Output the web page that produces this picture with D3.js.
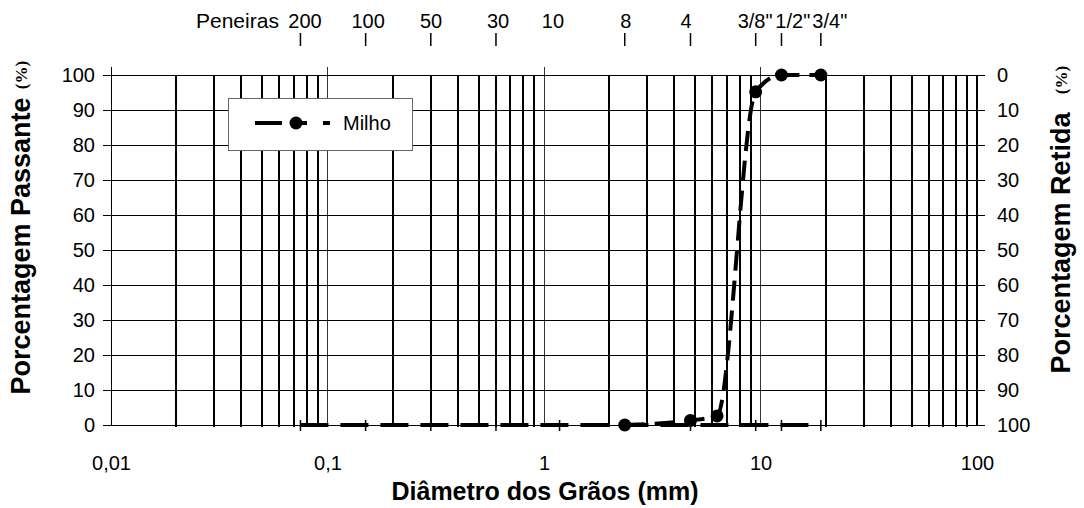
<!DOCTYPE html>
<html><head><meta charset="utf-8">
<script src="https://cdn.jsdelivr.net/npm/d3@7"></script>
<style>
html,body{margin:0;padding:0;background:#fff;}
svg{display:block;font-family:"Liberation Sans",Arial,sans-serif;}
</style></head>
<body><svg id="c" width="1084" height="508"></svg>
<script>
// ---- data ----
const milhoSize = [2.36, 4.75, 6.3, 9.5, 12.5, 19];          // mm
const milhoPass = [0, 1.3, 2.6, 95.2, 100, 100];              // % passante
const baseSize  = [0.075, 0.15, 0.3, 0.6, 1.18, 2.36, 4.75, 9.5, 12.5, 19];
const basePass  = [0, 0, 0, 0, 0, 0, 0, 0, 0, 0];
const sieveLabels = ["200", "100", "50", "30", "10", "8", "4", "3/8\"", "1/2\"", "3/4\""];
const sieveTickMM = [0.075, 0.15, 0.3, 0.6, null, 2.36, 4.75, 9.5, 12.5, 19];
const sieveLabelMM = [0.0787, 0.154, 0.301, 0.614, 1.10, 2.39, 4.53, 9.44, 14.1, 20.9];
const xTicks = [0.01, 0.1, 1, 10, 100];
const yTicks = [0, 10, 20, 30, 40, 50, 60, 70, 80, 90, 100];

const svg = d3.select("#c");
const x = d3.scaleLog().domain([0.01, 100]).range([111, 977]);
const y = d3.scaleLinear().domain([0, 100]).range([425, 75]);
const yR = d3.scaleLinear().domain([100, 0]).range([425, 75]);
const FS = 20;
const px = v => Math.round(v) + 0.5;

// vertical minor grid
const minors = [];
[0.01, 0.1, 1, 10].forEach(d => { for (let k = 2; k <= 9; k++) minors.push(k * d); });
svg.append("g").attr("shape-rendering", "crispEdges").selectAll("line").data(minors).join("line")
  .attr("x1", d => Math.round(x(d))).attr("x2", d => Math.round(x(d))).attr("y1", y(100)).attr("y2", y(0) + 2)
  .attr("stroke", "#000").attr("stroke-width", 2);
// decade lines
svg.append("g").attr("shape-rendering", "crispEdges").selectAll("line").data([0.1, 1, 10]).join("line")
  .attr("x1", d => px(x(d))).attr("x2", d => px(x(d))).attr("y1", y(100) - 8).attr("y2", y(0))
  .attr("stroke", "#333").attr("stroke-width", 1);
svg.append("line").attr("shape-rendering", "crispEdges")
  .attr("x1", Math.round(x(100))).attr("x2", Math.round(x(100))).attr("y1", y(100)).attr("y2", y(0))
  .attr("stroke", "#000").attr("stroke-width", 2);
// horizontal grid
svg.append("g").attr("shape-rendering", "crispEdges").selectAll("line").data(yTicks).join("line")
  .attr("x1", x(0.01) - 8).attr("x2", x(100) + 8).attr("y1", d => px(y(d))).attr("y2", d => px(y(d)))
  .attr("stroke", "#000").attr("stroke-width", 1);
// left axis line
svg.append("line").attr("shape-rendering", "crispEdges")
  .attr("x1", px(x(0.01))).attr("x2", px(x(0.01))).attr("y1", y(100) - 8).attr("y2", y(0))
  .attr("stroke", "#000").attr("stroke-width", 1);

// axes (labels)
const gl = svg.append("g").attr("transform", `translate(${x(0.01)},0)`)
  .call(d3.axisLeft(y).tickValues(yTicks).tickSize(0).tickPadding(16).tickFormat(d3.format("d")));
const gr = svg.append("g").attr("transform", `translate(${x(100)},0)`)
  .call(d3.axisRight(yR).tickValues(yTicks).tickSize(0).tickPadding(20).tickFormat(d3.format("d")));
const gb = svg.append("g").attr("transform", `translate(0,${y(0)})`)
  .call(d3.axisBottom(x).tickValues(xTicks).tickSize(0).tickPadding(31)
    .tickFormat(d => String(d).replace(".", ",")));
[gl, gr, gb].forEach(g => {
  g.select(".domain").remove();
  g.selectAll("text").attr("font-size", FS).attr("fill", "#000")
    .attr("font-family", "'Liberation Sans',Arial,sans-serif");
});

// base series (zero line with vertical tick markers)
const line0 = d3.line().x((d, i) => x(baseSize[i])).y(d => y(d));
svg.append("path").datum(basePass).attr("d", line0).attr("fill", "none")
  .attr("stroke", "#000").attr("stroke-width", 4).attr("stroke-dasharray", "28,12");
svg.append("g").selectAll("line").data(basePass).join("line")
  .attr("x1", (d, i) => x(baseSize[i])).attr("x2", (d, i) => x(baseSize[i]))
  .attr("y1", d => y(d) - 5).attr("y2", d => y(d) + 6)
  .attr("stroke", "#000").attr("stroke-width", 1.5);

// Milho series
const lineM = d3.line().x((d, i) => x(milhoSize[i])).y(d => y(d)).curve(d3.curveMonotoneX);
svg.append("path").datum(milhoPass).attr("d", lineM).attr("fill", "none")
  .attr("stroke", "#000").attr("stroke-width", 4).attr("stroke-dasharray", "20,10");
svg.append("g").selectAll("circle").data(milhoPass).join("circle")
  .attr("cx", (d, i) => x(milhoSize[i])).attr("cy", d => y(d)).attr("r", 6.5).attr("fill", "#000");

// sieves on top
svg.append("text").attr("x", 196).attr("y", 28).attr("font-size", 21).text("Peneiras");
svg.append("g").selectAll("line").data(sieveTickMM.filter(d => d !== null)).join("line")
  .attr("x1", d => x(d)).attr("x2", d => x(d)).attr("y1", 33).attr("y2", 46)
  .attr("stroke", "#000").attr("stroke-width", 1.5);
svg.append("g").selectAll("text").data(sieveLabels).join("text")
  .attr("x", (d, i) => x(sieveLabelMM[i])).attr("y", 28).attr("text-anchor", "middle")
  .attr("font-size", FS).text(d => d);

// legend
const lg = svg.append("g");
lg.append("rect").attr("x", 228.5).attr("y", 98.5).attr("width", 184).attr("height", 52)
  .attr("fill", "#fff").attr("stroke", "#666").attr("stroke-width", 1);
lg.append("line").attr("x1", 255).attr("x2", 330).attr("y1", 123).attr("y2", 123)
  .attr("stroke", "#000").attr("stroke-width", 4).attr("stroke-dasharray", "27,8,17,16,10");
lg.append("circle").attr("cx", 296).attr("cy", 123).attr("r", 6.5).attr("fill", "#000");
lg.append("text").attr("x", 343).attr("y", 130).attr("font-size", FS).text("Milho");

// axis titles
svg.append("text").attr("x", 545).attr("y", 500).attr("text-anchor", "middle")
  .attr("font-size", 25).attr("font-weight", "bold").text("Diâmetro dos Grãos (mm)");
svg.append("text").attr("transform", "translate(30,246) rotate(-90)").attr("text-anchor", "middle")
  .attr("font-size", 27).attr("font-weight", "bold").text("Porcentagem Passante");
svg.append("text").attr("transform", "translate(27,75) rotate(-90)").attr("text-anchor", "middle")
  .attr("font-size", 17).attr("font-weight", "bold").attr("font-family", "'Liberation Serif',serif").text("(%)");
svg.append("text").attr("transform", "translate(1070,243) rotate(-90)").attr("text-anchor", "middle")
  .attr("font-size", 27).attr("font-weight", "bold").text("Porcentagem Retida");
svg.append("text").attr("transform", "translate(1067,80) rotate(-90)").attr("text-anchor", "middle")
  .attr("font-size", 17).attr("font-weight", "bold").attr("font-family", "'Liberation Serif',serif").text("(%)");
</script></body></html>
